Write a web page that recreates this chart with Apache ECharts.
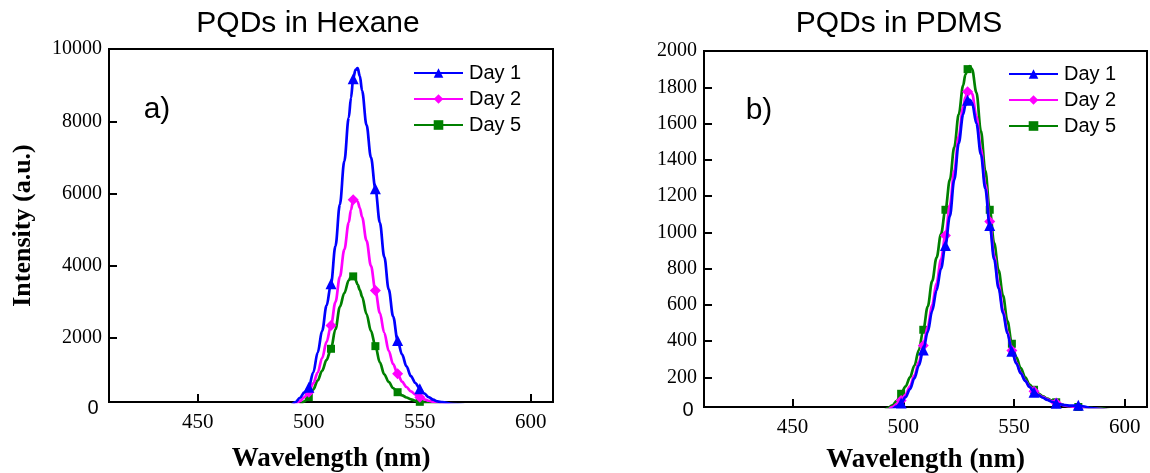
<!DOCTYPE html>
<html><head><meta charset="utf-8">
<script src="https://cdn.jsdelivr.net/npm/echarts@6/dist/echarts.min.js"></script>
<style>html,body{margin:0;padding:0;background:#fff}#c{width:1150px;height:473px}</style>
</head><body><div id="c"></div>
<script>
const seriesNames = ['Day 1', 'Day 2', 'Day 5'];
const panelTitles = ['PQDs in Hexane', 'PQDs in PDMS'];
const panelTags = ['a)', 'b)'];
const xName = 'Wavelength (nm)';
const yName = 'Intensity (a.u.)';
const xTicks = [450, 500, 550, 600];
const hexYTicks = [2000, 4000, 6000, 8000, 10000];
const pdmsYTicks = [200, 400, 600, 800, 1000, 1200, 1400, 1600, 1800, 2000];

// Panel a) PQDs in Hexane
const hexWl = [480, 485, 490, 492, 494, 496, 498, 500, 502, 504, 506, 508, 510, 512, 514, 516, 518, 519, 520, 521, 522, 523, 524, 526, 528, 530, 532, 534, 536, 538, 540, 542, 544, 546, 548, 550, 552, 554, 556, 558, 560, 565, 570];
const hexDay1 = [0, 0, 80, 150, 235, 350, 500, 645, 1050, 1600, 2200, 2900, 3505, 4550, 5700, 6900, 8100, 8650, 9175, 9420, 9470, 9250, 8850, 7900, 7000, 6132, 5200, 4250, 3350, 2600, 1936, 1550, 1220, 950, 760, 600, 470, 370, 300, 250, 230, 180, 150];
const hexDay2 = [0, 0, 50, 100, 200, 260, 370, 506, 750, 1050, 1450, 1900, 2351, 3000, 3700, 4450, 5200, 5550, 5828, 5856, 5780, 5600, 5350, 4700, 4000, 3319, 2700, 2150, 1650, 1280, 1015, 800, 650, 530, 440, 368, 310, 270, 245, 225, 210, 150, 100];
const hexDay5 = [0, 0, 0, 0, 50, 160, 250, 368, 580, 830, 1100, 1400, 1707, 2250, 2870, 3250, 3600, 3700, 3710, 3620, 3480, 3330, 3150, 2670, 2200, 1780, 1330, 1000, 790, 620, 506, 420, 360, 310, 270, 240, 215, 195, 180, 165, 150, 120, 100];
const hexMarkWl = [500, 510, 520, 530, 540, 550, 560];

// Panel b) PQDs in PDMS
const pdmsWl = [470, 475, 480, 485, 489, 491, 493, 495, 497, 499, 501, 503, 505, 507, 509, 511, 513, 515, 517, 519, 521, 523, 525, 527, 528, 529, 530, 531, 533, 535, 537, 539, 541, 543, 545, 547, 549, 551, 553, 555, 557, 559, 561, 563, 565, 567, 569, 571, 573, 575, 577, 579, 581, 585, 589, 595, 600];
const pdmsDay1 = [0, 0, 0, 2, 6, 10, 16, 25, 40, 58, 90, 135, 195, 265, 350, 450, 565, 680, 800, 927, 1090, 1290, 1490, 1650, 1700, 1728, 1731, 1715, 1600, 1430, 1240, 1037, 850, 690, 555, 440, 344, 276, 222, 180, 146, 118, 100, 87, 75, 65, 56, 50, 46, 44, 44, 45, 40, 30, 24, 12, 6];
const pdmsDay2 = [0, 0, 0, 3, 8, 14, 22, 35, 52, 72, 105, 150, 210, 285, 375, 480, 600, 720, 850, 982, 1150, 1340, 1530, 1690, 1745, 1775, 1782, 1765, 1640, 1460, 1265, 1059, 870, 710, 570, 450, 348, 280, 225, 182, 148, 123, 104, 90, 78, 68, 58, 50, 44, 40, 37, 34, 32, 28, 25, 12, 6];
const pdmsDay5 = [0, 0, 0, 2, 5, 15, 30, 45, 70, 109, 150, 200, 265, 350, 462, 590, 730, 860, 990, 1124, 1290, 1470, 1650, 1810, 1870, 1900, 1917, 1900, 1770, 1560, 1340, 1124, 940, 790, 650, 510, 385, 310, 250, 200, 160, 131, 110, 95, 82, 72, 62, 52, 44, 40, 38, 36, 34, 30, 28, 15, 10];
const pdmsMarkWl = [499, 509, 519, 529, 539, 549, 559, 569, 579, 589];

const colors = ['#0000ff', '#ff00ff', '#008000'];
const symbols = ['triangle', 'diamond', 'rect'];
const symbolSizes = [11, 11, 8];

const serif = 'Liberation Serif, Times New Roman, serif';
const sans = 'Liberation Sans, Arial, sans-serif';

function mkSeries(i, idx, xs, ys, marks) {
  return {
    name: seriesNames[i], type: 'line', xAxisIndex: idx, yAxisIndex: idx,
    data: xs.map((x, k) => [x, ys[k]]),
    smooth: 0.35, smoothMonotone: 'x',
    symbol: symbols[i],
    symbolSize: v => marks.includes(v[0]) ? symbolSizes[i] : 0,
    showAllSymbol: true, clip: true,
    lineStyle: { color: colors[i], width: 2.7 },
    itemStyle: { color: colors[i] },
    emphasis: { disabled: true },
    z: 3 - i
  };
}

function xAxisCfg(g, gap) {
  return {
    gridIndex: g, type: 'value', min: 410, max: 610,
    axisLine: { show: true, onZero: false, lineStyle: { color: '#000', width: 2 } },
    axisTick: { show: true, inside: true, length: 8, customValues: xTicks, lineStyle: { color: '#000', width: 2 } },
    axisLabel: { customValues: xTicks, formatter: v => String(v), fontFamily: serif, fontSize: 21, color: '#000', margin: 10 },
    splitLine: { show: false },
    name: xName, nameLocation: 'middle', nameGap: gap,
    nameTextStyle: { fontFamily: serif, fontWeight: 'bold', fontSize: 27, color: '#000' }
  };
}
function yAxisCfg(g, min, max, ticks, name) {
  const c = {
    gridIndex: g, type: 'value', min: min, max: max,
    axisLine: { show: true, onZero: false, lineStyle: { color: '#000', width: 2 } },
    axisTick: { show: true, inside: true, length: 8, customValues: ticks, lineStyle: { color: '#000', width: 2 } },
    axisLabel: { customValues: ticks, formatter: v => String(v), fontFamily: serif, fontSize: 20, color: '#000', margin: 7 },
    splitLine: { show: false }
  };
  if (name) {
    c.name = name; c.nameLocation = 'middle'; c.nameGap = 73;
    c.nameTextStyle = { fontFamily: serif, fontWeight: 'bold', fontSize: 26, color: '#000' };
  }
  return c;
}
function legendCfg(left, top) {
  return {
    data: seriesNames, orient: 'vertical', left: left, top: top,
    itemWidth: 49, itemHeight: 12, itemGap: 6, padding: 0,
    textStyle: { fontFamily: sans, fontSize: 20, color: '#000', lineHeight: 20, padding: [0, 0, 0, 1] },
    selectedMode: false
  };
}
function txt(text, x, y, size, family) {
  return { type: 'text', silent: true, z: 10,
    style: { text: text, x: x, y: y, font: size + 'px ' + family, fill: '#000',
      textAlign: 'center', textVerticalAlign: 'middle', align: 'center', verticalAlign: 'middle' } };
}

const chart = echarts.init(document.getElementById('c'), null, { renderer: 'canvas' });
chart.setOption({
  animation: false,
  backgroundColor: '#fff',
  title: [
    { text: panelTitles[0], left: 308, top: 9, textAlign: 'center', padding: 0,
      textStyle: { fontFamily: sans, fontWeight: 'normal', fontSize: 30, color: '#000' } },
    { text: panelTitles[1], left: 899, top: 9, textAlign: 'center', padding: 0,
      textStyle: { fontFamily: sans, fontWeight: 'normal', fontSize: 30, color: '#000' } }
  ],
  grid: [
    { left: 109, top: 49, width: 444, height: 353, show: true, borderColor: '#000', borderWidth: 2, backgroundColor: 'transparent', containLabel: false, outerBoundsMode: 'none' },
    { left: 704, top: 51, width: 443, height: 356, show: true, borderColor: '#000', borderWidth: 2, backgroundColor: 'transparent', containLabel: false, outerBoundsMode: 'none' }
  ],
  xAxis: [xAxisCfg(0, 44), xAxisCfg(1, 40)],
  yAxis: [yAxisCfg(0, 235, 10000, hexYTicks, yName), yAxisCfg(1, 36, 2000, pdmsYTicks, null)],
  legend: [legendCfg(413, 63), legendCfg(1008, 64)],
  graphic: [
    txt(panelTags[0], 157, 110, 30, sans),
    txt(panelTags[1], 759, 111, 30, sans),
    txt('0', 93, 408, 20, sans),
    txt('0', 688, 410, 20, sans)
  ],
  series: [
    mkSeries(0, 0, hexWl, hexDay1, hexMarkWl),
    mkSeries(1, 0, hexWl, hexDay2, hexMarkWl),
    mkSeries(2, 0, hexWl, hexDay5, hexMarkWl),
    mkSeries(0, 1, pdmsWl, pdmsDay1, pdmsMarkWl),
    mkSeries(1, 1, pdmsWl, pdmsDay2, pdmsMarkWl),
    mkSeries(2, 1, pdmsWl, pdmsDay5, pdmsMarkWl)
  ]
});
</script></body></html>
